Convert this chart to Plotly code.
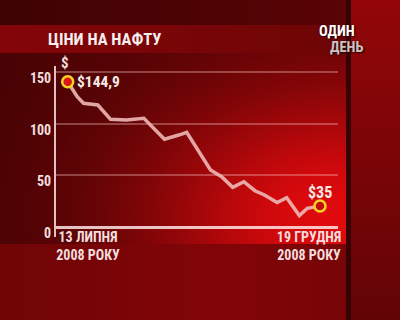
import base64, struct, zlib
import numpy as np
import pandas as pd
import plotly.graph_objects as go

# ---------------- data ----------------
title_text = "ЦІНИ НА НАФТУ"
start_date = "2008-07-13"
day_offsets = [0, 6, 10, 14, 19, 27, 37, 48, 54, 61, 70, 75, 90, 97, 104, 111,
               118, 124, 132, 138, 146, 151, 159]
prices = [140.6, 126.1, 119.7, 119.0, 118.1, 104.2, 103.5, 105.2, 95.5, 84.9,
          89.0, 91.6, 55.2, 48.7, 38.4, 43.8, 35.1, 31.0, 23.7, 28.4, 11.1,
          18.1, 20.3]
first_label = "$144,9"
last_label = "$35"
y_ticks = [0, 50, 100, 150]
x_tick_days = [12.8, 152.1]
x_tick_text = ["13 ЛИПНЯ<br>2008 РОКУ", "19 ГРУДНЯ<br>2008 РОКУ"]
logo_top = "ОДИН"
logo_bottom = "ДЕНЬ"

start = pd.Timestamp(start_date)
dates = [start + pd.Timedelta(days=d) for d in day_offsets]
x_ticks = [start + pd.Timedelta(days=d) for d in x_tick_days]

# ---------------- background image ----------------
W, H = 400, 320
X, Y = np.meshgrid(np.arange(W) + 0.5, np.arange(H) + 0.5)
f = np.exp(-(((X - 330) / 185.0) ** 2 + ((Y - 215) / 125.0) ** 2))
r = 72 + 135 * f + 18 * (X / 348.0)
top = Y < 25
r = np.where(top, 62 + 28 * (X / 348.0), r)
band = (Y >= 25) & (Y < 53) & (X < 345)
r = np.where(band, 132 - 22 * (X / 345.0), r)
bottom = Y >= 244
r = np.where(bottom, 110 + 18 * np.exp(-((X - 220) / 160.0) ** 2), r)
right = X >= 351
r = np.where(right, 148 - 50 * (Y / 320.0), r)
divider = (X >= 346) & (X < 351)
r = np.where(divider, 55, r)
r = np.clip(r, 0, 255)
g = r * 0.045
b = r * 0.06
img = np.stack([r, g, b], axis=-1).astype(np.uint8)


def to_png(arr):
    h, w, _ = arr.shape
    raw = b"".join(b"\x00" + arr[i].tobytes() for i in range(h))

    def chunk(tag, data):
        c = struct.pack(">I", len(data)) + tag + data
        return c + struct.pack(">I", zlib.crc32(tag + data) & 0xFFFFFFFF)

    png = b"\x89PNG\r\n\x1a\n"
    png += chunk(b"IHDR", struct.pack(">IIBBBBB", w, h, 8, 2, 0, 0, 0))
    png += chunk(b"IDAT", zlib.compress(raw, 9))
    png += chunk(b"IEND", b"")
    return "data:image/png;base64," + base64.b64encode(png).decode()


bg_uri = to_png(img)

# ---------------- figure ----------------
FONT = "Roboto Condensed, Liberation Sans, sans-serif"
txt_col = "#f3dede"

fig = go.Figure()
fig.add_trace(go.Scatter(
    x=dates, y=prices, mode="lines",
    line=dict(color="rgba(238,184,182,0.9)", width=3.5),
    hoverinfo="skip", showlegend=False, cliponaxis=False,
))
fig.add_trace(go.Scatter(
    x=[dates[0], dates[-1]], y=[prices[0], prices[-1]], mode="markers",
    marker=dict(size=11, color=["#d81818", "#c40c0c"],
                line=dict(color="#f4d424", width=2.5)),
    hoverinfo="skip", showlegend=False, cliponaxis=False,
))

left_px, right_px = 56, 338
top_px, bottom_px = 66, 237
pw, ph = right_px - left_px, bottom_px - top_px
px_per_day = 1.5868
day_left = (left_px - 67.7) / px_per_day
day_right = (right_px - 67.7) / px_per_day
px_per_unit = 1.0333
y_zero_px = 227
y_lo = -(bottom_px - y_zero_px) / px_per_unit
y_hi = (y_zero_px - top_px) / px_per_unit
x_axis_pos = (bottom_px - y_zero_px) / ph


def px(xp):
    return (xp - left_px) / pw


def py(yp):
    return (bottom_px - yp) / ph


fig.update_layout(
    width=W, height=H,
    margin=dict(l=left_px, r=W - right_px, t=top_px, b=H - bottom_px),
    paper_bgcolor="#600505", plot_bgcolor="rgba(0,0,0,0)",
    showlegend=False,
    images=[dict(source=bg_uri, xref="paper", yref="paper",
                 x=px(0), y=py(0), sizex=W / pw, sizey=H / ph,
                 xanchor="left", yanchor="top", sizing="stretch",
                 layer="below")],
    xaxis=dict(
        type="date",
        range=[start + pd.Timedelta(days=day_left), start + pd.Timedelta(days=day_right)],
        showgrid=False, zeroline=False, showline=False,
        tickvals=x_ticks, ticktext=x_tick_text, ticks="",
        anchor="free", position=x_axis_pos,
        tickfont=dict(family=FONT, size=14, color=txt_col, weight="bold"),
    ),
    yaxis=dict(
        range=[y_lo, y_hi],
        tickvals=y_ticks, ticks="",
        showgrid=True, gridcolor="rgba(255,200,200,0.33)", gridwidth=2,
        zeroline=True, zerolinecolor="rgba(255,228,228,0.85)", zerolinewidth=2.5,
        showline=True, linecolor="rgba(255,225,225,0.85)", linewidth=2,
        ticklabelshift=6,
        tickfont=dict(family=FONT, size=14, color=txt_col, weight="bold"),
    ),
    annotations=[
        dict(text=title_text, xref="paper", yref="paper",
             x=px(46), y=py(40), xanchor="left", yanchor="middle", showarrow=False,
             font=dict(family=FONT, size=16.5, color="#f6eeee", weight="bold")),
        dict(text="$", xref="x", yref="y", x=dates[0], y=150,
             xshift=-3, yshift=9, showarrow=False,
             font=dict(family=FONT, size=15, color=txt_col, weight="bold")),
        dict(text=first_label, xref="x", yref="y", x=dates[0], y=prices[0],
             xanchor="left", xshift=7, showarrow=False,
             font=dict(family=FONT, size=15.5, color="#f6eae4", weight="bold")),
        dict(text=last_label, xref="x", yref="y", x=dates[-1], y=prices[-1],
             yshift=14, showarrow=False,
             font=dict(family=FONT, size=16, color="#f6eae4", weight="bold")),
        dict(text=logo_top, xref="paper", yref="paper",
             x=px(337), y=py(31.5), xanchor="center", yanchor="middle",
             showarrow=False, borderpad=0,
             font=dict(family=FONT, size=14.5, color="#ffffff", weight="bold",
                       shadow="1px 1px 2px #200000")),
        dict(text=logo_bottom, xref="paper", yref="paper",
             x=px(346.5), y=py(47.5), xanchor="center", yanchor="middle",
             showarrow=False, borderpad=0,
             font=dict(family=FONT, size=14.5, color="#c9c4c4", weight="bold",
                       shadow="1px 1px 2px #200000")),
    ],
)

fig.write_html("out.html")
